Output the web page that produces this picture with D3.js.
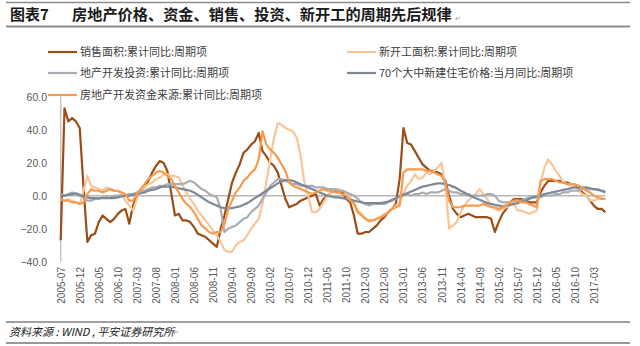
<!DOCTYPE html>
<html><head><meta charset="utf-8">
<script src="https://cdn.jsdelivr.net/npm/d3@7"></script>
<style>
html,body{margin:0;padding:0;background:#fff;}
svg{display:block;font-family:"Liberation Sans","Noto Sans CJK SC",sans-serif;}
</style></head>
<body><svg id="c" width="640" height="346"></svg>
<script>
// months 2005-07 .. 2017-06
const startYear = 2005, startMonth = 7, nMonths = 144;
const months = [];
for (let i = 0; i < nMonths; i++) {
  const t = startMonth - 1 + i;
  months.push((startYear + Math.floor(t / 12)) + "-" + String(t % 12 + 1).padStart(2, "0"));
}
const tickLabels = ["2005-07","2005-12","2006-05","2006-10","2007-03","2007-08","2008-01","2008-06","2008-11","2009-04","2009-09","2010-02","2010-07","2010-12","2011-05","2011-10","2012-03","2012-08","2013-01","2013-06","2013-11","2014-04","2014-09","2015-02","2015-07","2015-12","2016-05","2016-10","2017-03"];
const yTicks = [60,40,20,0,-20,-40];

const seriesNames = ["销售面积:累计同比:周期项","新开工面积:累计同比:周期项","地产开发投资:累计同比:周期项","70个大中新建住宅价格:当月同比:周期项","房地产开发资金来源:累计同比:周期项"];
const seriesColors = ["#9a4d17","#f9c597","#a9adb3","#7c8896","#f79a4e"];

const salesArea = [-27,53,45,47,45,41,5,-28,-24,-23,-16,-12,-14,-16,-14,-11,-9,-8,-17,-6,0,3,5,9,14,18,21,20,15,2,-12,-11,-15,-15,-16,-19,-23,-24,-25,-27,-29,-31,-20,-12,-2,8,14,19,26,28,31,33,38,27,24,20,18,14,6,-2,-7,-6,-5,-3,-2,-1,0,1,-6,-2,0,2,3,2,2,-2,-4,-12,-23,-23,-22,-22,-20,-18,-15,-13,-10,-8,-5,10,41,32,31,27,23,19,17,15,15,14,13,9,0,-8,-11,-13,-12,-11,-12,-13,-13,-13,-13,-14,-22,-16,-11,-8,-4,-2,-2,-2,-3,-4,-4,-4,2,6,9,9,9,9,8,8,7,6,4,2,0,-3,-6,-8,-8,-10];
const newStart = [-2,-3,-2,-3,-4,-5,3,12,6,5,4,3,5,4,3,3,1,-3,-6,-9,-2,3,5,7,8,10,11,13,13,12,12,11,6,2,-2,-5,-9,-12,-15,-18,-21,-24,-28,-33,-34,-34,-30,-28,-27,-24,-20,-17,-14,-5,8,22,35,44,43,41,40,39,35,24,8,0,-10,-10,-8,-4,0,2,4,4,3,2,-1,-4,-9,-11,-14,-16,-15,-14,-13,-11,-10,-8,-6,-4,1,6,9,13,10,11,14,13,15,17,20,6,-20,-18,-16,-10,-6,-3,-1,1,4,1,-2,-6,-8,-9,-8,-7,-6,-5,-9,-9,-10,-11,-10,-9,8,17,22,19,15,12,8,7,6,6,3,1,0,-3,-3,-2,-1,-2];
const investment = [1,0,1,2,1,0,-1,-3,-3,-2,-2,-1,-1,-1,0,0,0,0,1,1,2,3,3,4,5,5,6,6,7,7,7,7,7,8,9,8,6,4,3,1,0,-1,-8,-22,-20,-19,-18,-16,-14,-13,-10,-8,-6,-2,2,6,8,10,10,9,8,7,7,6,6,6,6,5,5,5,4,4,4,3,3,2,1,0,-2,-4,-5,-6,-5,-5,-5,-5,-4,-3,-2,0,1,1,0,1,1,2,1,2,2,2,3,4,3,2,2,1,1,1,0,0,0,0,1,1,0,-3,-4,-4,-4,-3,-3,-3,-2,-1,-1,-1,-1,0,0,0,1,1,2,2,3,3,3,4,4,4,4,4,3,3];
const housePrice = [0,0,0.5,1,1.5,0.5,-0.5,-1,-1.5,-1.5,-1.5,-1.5,-1.5,-1.5,-1.5,-1,-0.5,0,0,0.5,1,1.5,2,3,3.5,4,5,5.5,5.5,5.5,5,4.5,4,3.5,3,2,0.5,-1,-2.5,-4,-5,-6,-7,-7.5,-7.5,-7.5,-7,-6.5,-5.5,-4.5,-3,-1.5,0,1.5,3,4.5,6,7.5,8.5,9.5,9.5,9,8,7,6,5,4,3,2,1,0,-0.5,-1,-1,-1.5,-2,-2.5,-3,-3.5,-4,-4.5,-4.5,-4.5,-4.5,-4.5,-4,-3.5,-2.5,-1.5,-0.5,0.5,1.5,2.5,3.5,4.5,5.5,6,6.5,7,7.5,7.5,7,6.5,5.5,4.5,3,2,0.5,-0.5,-1.5,-2.5,-3.5,-4.5,-5,-5.5,-6,-6.5,-6,-5.5,-5,-4.5,-3.5,-3,-2,-1,-0.5,0,1,1.5,2,2.5,3,3.5,4,4.5,5,5,5,5,4.5,4,3.5,3,2];
const fundSource = [-2,-3,-3,-4,-4,-5,-4,1,4,3,3,2,3,4,3,3,2,1,-3,-3,1,4,7,10,12,14,15,14,12,10,6,2,-2,-5,-7,-10,-14,-18,-20,-22,-23,-22,-22,-17,-8,-3,2,5,9,11,14,16,22,39,31,28,26,23,19,15,8,6,5,4,3,2,1,2,3,4,3,3,2,2,1,0,-3,-5,-10,-12,-14,-15,-15,-14,-13,-12,-10,-8,-7,-6,14,16,16,16,16,16,15,15,14,13,12,8,-3,-7,-7,-7,-6,-6,-6,-6,-6,-5,-6,-7,-7,-8,-7,-6,-4,-3,-3,-4,-4,-5,-6,-7,9,10,10,10,9,8,8,7,7,7,6,5,3,2,0,-1,-2,-2];

const seriesValues = [salesArea, newStart, investment, housePrice, fundSource];

const svg = d3.select("#c");
const x = d3.scalePoint().domain(months).range([60.7, 605.3]);
const y = d3.scaleLinear().domain([-40, 60]).range([261.7, 96.7]);

// header rules and title
svg.append("line").attr("x1",6).attr("x2",630).attr("y1",2.5).attr("y2",2.5).attr("stroke","#8c8c8c").attr("stroke-width",1.5);
svg.append("line").attr("x1",6).attr("x2",630).attr("y1",26.5).attr("y2",26.5).attr("stroke","#8c8c8c").attr("stroke-width",2);
svg.append("text").attr("x",10).attr("y",20).attr("font-size",15).attr("font-weight","bold")
  .attr("font-family","'Noto Sans CJK SC',sans-serif").attr("fill","#1a1a1a").text("图表7");
svg.append("text").attr("x",72).attr("y",20).attr("font-size",15.2).attr("font-weight","bold")
  .attr("font-family","'Noto Sans CJK SC',sans-serif").attr("fill","#1a1a1a").text("房地产价格、资金、销售、投资、新开工的周期先后规律");
svg.append("text").attr("x",455).attr("y",21).attr("font-size",7).attr("fill","#999").text("↵");

// axes
svg.append("line").attr("x1",x(months[0])).attr("x2",x(months[0])).attr("y1",y(60)).attr("y2",y(-40))
  .attr("stroke","#c4c4c4").attr("stroke-width",1.5);
svg.append("line").attr("x1",x(months[0])).attr("x2",x(months[nMonths-1])).attr("y1",y(0)).attr("y2",y(0))
  .attr("stroke","#b8b8b8").attr("stroke-width",1.5);

const yAxis = d3.axisLeft(y).tickValues(yTicks).tickFormat(d3.format(".1f")).tickSize(0).tickPadding(0);
const gy = svg.append("g").attr("transform","translate(47,0)").call(yAxis);
gy.select(".domain").remove();
gy.selectAll("text").attr("font-size",10.5).attr("fill","#595959").attr("font-family","'Liberation Sans',sans-serif");

const xAxis = d3.axisBottom(x).tickValues(tickLabels).tickSize(0).tickPadding(0);
const gx = svg.append("g").attr("transform","translate(0,267)").call(xAxis);
gx.select(".domain").remove();
gx.selectAll("text").attr("font-size",10).attr("fill","#595959").attr("font-family","'Liberation Sans',sans-serif")
  .attr("text-anchor","end").attr("dy","0.35em").attr("transform","rotate(-90)").attr("x",0).attr("y",0);

// lines
const line = d3.line().x((d,i)=>x(months[i])).y(d=>y(d)).curve(d3.curveLinear);
seriesValues.forEach((vals,k)=>{
  svg.append("path").datum(vals).attr("d",line).attr("fill","none")
    .attr("stroke",seriesColors[k]).attr("stroke-width",2.2).attr("stroke-linejoin","round");
});

// legend
const legPos = [[48,52],[347,52],[48,73],[347,73],[48,95]];
seriesNames.forEach((n,k)=>{
  const [lx,ly] = legPos[k];
  svg.append("line").attr("x1",lx).attr("x2",lx+29).attr("y1",ly).attr("y2",ly)
    .attr("stroke",seriesColors[k]).attr("stroke-width",2.2);
  svg.append("text").attr("x",lx+32).attr("y",ly).attr("dy","0.35em").attr("font-size",11)
    .attr("font-family","'Noto Sans CJK SC',sans-serif").attr("fill","#404040").text(n);
});

// footer
svg.append("line").attr("x1",6).attr("x2",630).attr("y1",322).attr("y2",322).attr("stroke","#a0a0a0").attr("stroke-width",2);
svg.append("text").attr("x",9).attr("y",332).attr("dy","0.35em").attr("font-size",11).attr("font-style","italic")
  .attr("font-family","'Noto Sans CJK SC',sans-serif").attr("fill","#222").text("资料来源 : WIND , 平安证券研究所");
svg.append("text").attr("x",173).attr("y",335).attr("font-size",7).attr("fill","#999").text("↵");
svg.append("line").attr("x1",6).attr("x2",630).attr("y1",343).attr("y2",343).attr("stroke","#333").attr("stroke-width",1.2);
</script></body></html>
